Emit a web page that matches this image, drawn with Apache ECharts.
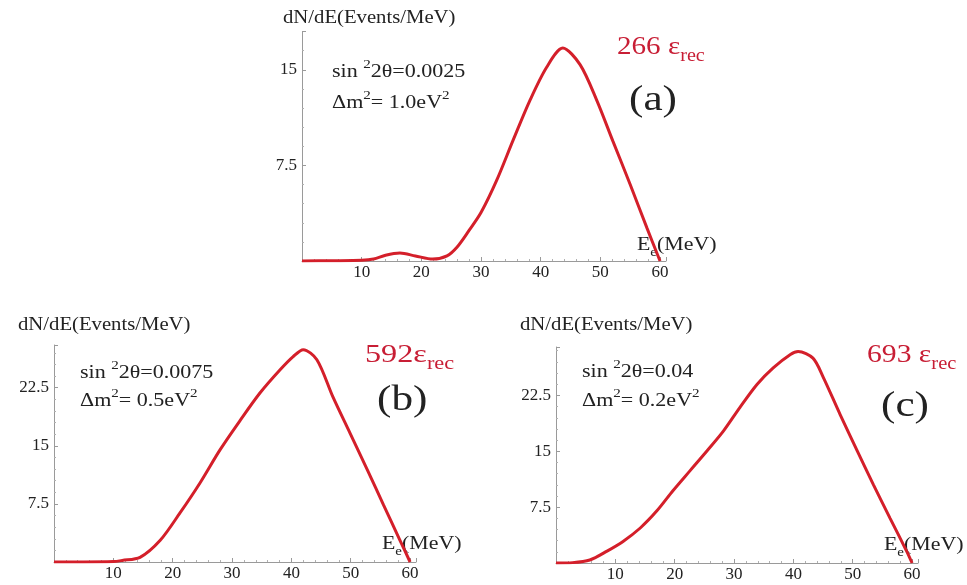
<!DOCTYPE html>
<html><head><meta charset="utf-8">
<script src="https://cdn.jsdelivr.net/npm/echarts@6/dist/echarts.min.js"></script>
<style>html,body{margin:0;padding:0;background:#fff}#c{width:967px;height:585px}</style>
</head><body><div id="c"></div>
<script>
// Panel (a): sin^2 2θ = 0.0025, Δm^2 = 1.0 eV^2
const energyA = [0, 5, 10, 12, 14, 16.4, 19, 21.9, 24.3, 26, 28, 30, 32.6, 35.4, 38.2, 41, 43.7, 46.6, 49.4, 52.1, 55, 57.8, 60];
const eventsA = [0, 0.02, 0.05, 0.15, 0.45, 0.62, 0.4, 0.15, 0.4, 1.1, 2.4, 3.8, 6.3, 9.5, 12.6, 15.2, 16.7, 15.4, 12.6, 9.4, 6.0, 2.6, 0];
// Panel (b): sin^2 2θ = 0.0075, Δm^2 = 0.5 eV^2
const energyB = [0, 5, 10, 11.5, 14.5, 17.9, 21.2, 24.6, 28, 31.4, 34.7, 38.1, 40.3, 42, 44.3, 47, 49.9, 52.8, 55.5, 58.3, 60];
const eventsB = [0, 0, 0.05, 0.2, 0.6, 2.8, 6.3, 10.2, 14.5, 18.3, 21.8, 24.8, 26.5, 27.4, 26.1, 21.3, 16.6, 11.9, 7.4, 2.8, 0];
// Panel (c): sin^2 2θ = 0.04, Δm^2 = 0.2 eV^2
const energyC = [0, 2.8, 5.7, 8.6, 11.3, 14.2, 17, 19.7, 22.6, 25.5, 28.2, 31, 33.9, 36.6, 39.5, 40.8, 43.3, 45, 47.9, 50.8, 53.5, 56.3, 59.2, 60];
const eventsC = [0, 0.05, 0.4, 1.6, 2.9, 4.7, 7.0, 9.7, 12.4, 15.1, 17.7, 20.9, 24.0, 26.2, 28.0, 28.4, 27.5, 25, 19.9, 15.0, 10.5, 6.0, 1.4, 0];

const xTickStep = 10;
const yTickStep = 7.5;
const yTitle = 'dN/dE(Events/MeV)';
const mixAngle = ['0.0025', '0.0075', '0.04'];
const massSplit = ['1.0', '0.5', '0.2'];
const countsLabel = ['266', '592', '693'];
const panelTags = ['(a)', '(b)', '(c)'];

const FONT = '"Liberation Serif", "DejaVu Serif", serif';
const RED = '#d41f2a';
const LABEL_RED = '#c81e35';
const AX = '#9a9a9a';
const SX = 1.16; // horizontal stretch of the reference lettering

function pairs(xs, ys) { return xs.map((x, i) => [x, ys[i]]); }

const grids = [
  {left: 302, top: 31.5, width: 364, height: 229.5},
  {left: 54, top: 345, width: 362, height: 217},
  {left: 556, top: 347, width: 362, height: 216}
];
const yMax = [18, 28, 29];

function xAxis(i) {
  return {
    type: 'value', gridIndex: i, min: 0, max: 61, interval: xTickStep,
    axisLine: {show: true, onZero: false, lineStyle: {color: AX, width: 1}},
    axisTick: {show: true, inside: true, length: 4, lineStyle: {color: AX}},
    minorTick: {show: true, splitNumber: 5, length: 2, lineStyle: {color: '#b0b0b0'}},
    splitLine: {show: false},
    axisLabel: {fontFamily: FONT, fontSize: 17, color: '#222', margin: 3,
      formatter: v => (v > 0 && v % xTickStep === 0) ? String(v) : ''}
  };
}
function yAxis(i) {
  return {
    type: 'value', gridIndex: i, min: 0, max: yMax[i], interval: yTickStep,
    axisLine: {show: true, lineStyle: {color: AX, width: 1}},
    axisTick: {show: true, inside: true, length: 4, lineStyle: {color: AX}},
    minorTick: {show: true, splitNumber: 5, length: 2, lineStyle: {color: '#b0b0b0'}},
    splitLine: {show: false},
    axisLabel: {fontFamily: FONT, fontSize: 17, color: '#222', margin: 5,
      formatter: v => (v > 0 && Math.abs(v / yTickStep - Math.round(v / yTickStep)) < 1e-6) ? String(v) : ''}
  };
}
function series(i, xs, ys) {
  return {
    type: 'line', xAxisIndex: i, yAxisIndex: i, data: pairs(xs, ys),
    showSymbol: false, smooth: 0.3, clip: true,
    lineStyle: {color: RED, width: 3}
  };
}

function richText(x, y, text, size, color, sx) {
  const c = color || '#222';
  return {
    type: 'text', x: x, y: y, scaleX: sx || SX,
    style: {
      text: text, verticalAlign: 'middle', align: 'left',
      rich: {
        m: {fontFamily: FONT, fontSize: size, fill: c, verticalAlign: 'bottom', lineHeight: Math.round(size * 1.25)},
        sup: {fontFamily: FONT, fontSize: Math.round(size * 0.68), fill: c, verticalAlign: 'top', lineHeight: Math.round(size * 1.25)},
        sub: {fontFamily: FONT, fontSize: Math.round(size * 0.68), fill: c, verticalAlign: 'bottom', lineHeight: Math.round(size * 1.25), padding: [0, 0, -Math.round(size * 0.2), 0]}
      }
    }
  };
}
function sinText(v) { return '{m|sin }{sup|2}{m|2\u03B8=' + v + '}'; }
function dmText(v) { return '{m|\u0394m}{sup|2}{m|= ' + v + 'eV}{sup|2}'; }
function countText(n, gap) { return '{m|' + n + (gap ? ' ' : '') + '\u03B5}{sub|rec}'; }
const eTitle = '{m|E}{sub|e}{m|(MeV)}';
function plain(x, y, text, size, sx) {
  return {type: 'text', x: x, y: y, scaleX: sx || SX,
    style: {text: text, fill: '#222', font: size + 'px ' + FONT, verticalAlign: 'middle', align: 'left'}};
}

const graphics = [
  // panel a
  plain(283, 18, yTitle, 18, 1.15),
  richText(332, 70, sinText(mixAngle[0]), 19),
  richText(332, 101, dmText(massSplit[0]), 19),
  richText(617, 44, countText(countsLabel[0], true), 26, LABEL_RED, 1.12),
  plain(629, 101, panelTags[0], 36, 1.2),
  richText(637, 243, eTitle, 19, '#222', 1.15),
  // panel b
  plain(18, 325, yTitle, 18, 1.15),
  richText(80, 371, sinText(mixAngle[1]), 19),
  richText(80, 399, dmText(massSplit[1]), 19),
  richText(365, 352, countText(countsLabel[1], false), 26, LABEL_RED, 1.24),
  plain(377, 401, panelTags[1], 36, 1.2),
  richText(382, 542, eTitle, 19, '#222', 1.15),
  // panel c
  plain(520, 325, yTitle, 18, 1.15),
  richText(582, 370, sinText(mixAngle[2]), 19),
  richText(582, 399, dmText(massSplit[2]), 19),
  richText(867, 352, countText(countsLabel[2], true), 26, LABEL_RED, 1.14),
  plain(881, 407, panelTags[2], 36, 1.2),
  richText(884, 543, eTitle, 19, '#222', 1.15)
];

const chart = echarts.init(document.getElementById('c'), null, {renderer: 'canvas'});
chart.setOption({
  animation: false,
  backgroundColor: '#fff',
  grid: grids,
  xAxis: [xAxis(0), xAxis(1), xAxis(2)],
  yAxis: [yAxis(0), yAxis(1), yAxis(2)],
  series: [series(0, energyA, eventsA), series(1, energyB, eventsB), series(2, energyC, eventsC)],
  graphic: graphics
});
</script></body></html>
